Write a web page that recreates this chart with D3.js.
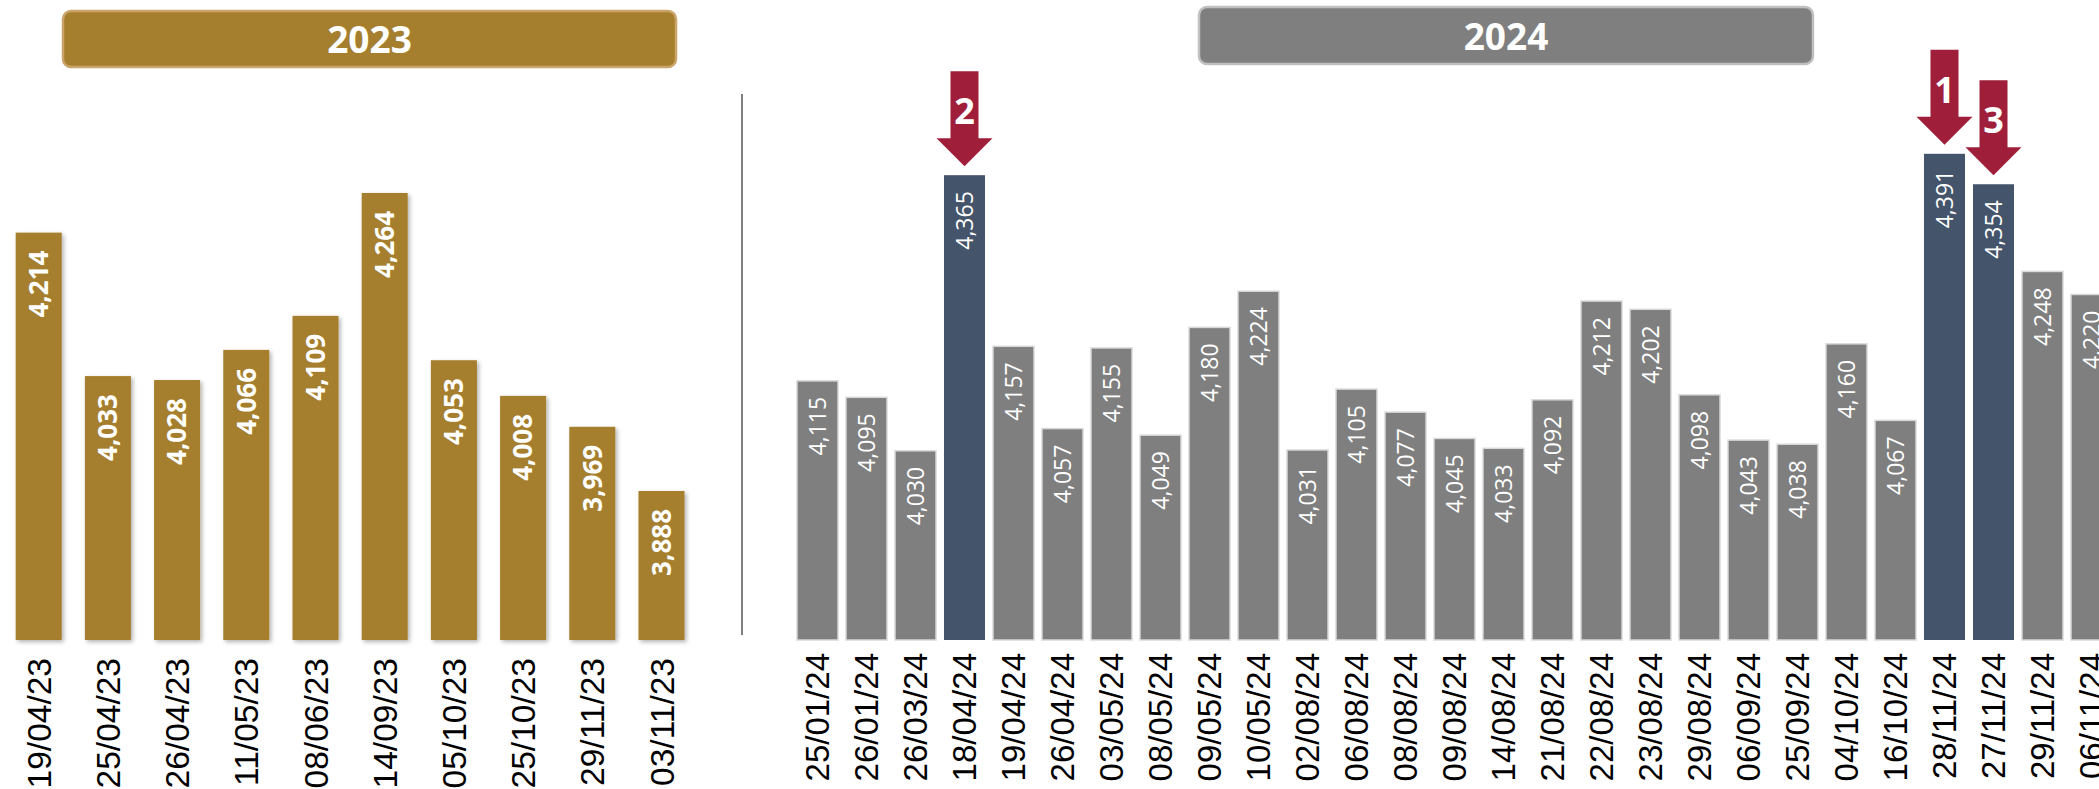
<!DOCTYPE html>
<html>
<head>
<meta charset="utf-8">
<script src="https://cdn.jsdelivr.net/npm/d3@7"></script>
<style>
  html, body { margin: 0; padding: 0; background: #ffffff; }
  svg { display: block; }
</style>
</head>
<body>
<svg id="chart" width="2099" height="789"></svg>
<script>
// ---------- DATA ----------
const cats2023 = ["19/04/23","25/04/23","26/04/23","11/05/23","08/06/23","14/09/23","05/10/23","25/10/23","29/11/23","03/11/23"];
const vals2023 = [4214,4033,4028,4066,4109,4264,4053,4008,3969,3888];

const cats2024 = ["25/01/24","26/01/24","26/03/24","18/04/24","19/04/24","26/04/24","03/05/24","08/05/24","09/05/24","10/05/24",
                  "02/08/24","06/08/24","08/08/24","09/08/24","14/08/24","21/08/24","22/08/24","23/08/24","29/08/24","06/09/24",
                  "25/09/24","04/10/24","16/10/24","28/11/24","27/11/24","29/11/24","06/11/24"];
const vals2024 = [4115,4095,4030,4365,4157,4057,4155,4049,4180,4224,
                  4031,4105,4077,4045,4033,4092,4212,4202,4098,4043,
                  4038,4160,4067,4391,4354,4248,4220];

const highlight2024 = ["18/04/24","28/11/24","27/11/24"];
const arrowDates = ["28/11/24","18/04/24","27/11/24"];
const arrowRanks = ["1","2","3"];
const panelTitles = ["2023","2024"];

// ---------- STYLE ----------
const gold = "#A67F2E", goldBorder = "#C9A46B";
const gray = "#7F7F7F", grayBorder = "#D9D9D9";
const navy = "#44546A", arrowRed = "#9F1F3B";
const fmt = d3.format(",");

const svg = d3.select("#chart");
const defs = svg.append("defs");
const f = defs.append("filter").attr("id","shadow").attr("x","-30%").attr("y","-10%").attr("width","160%").attr("height","120%");
f.append("feDropShadow").attr("dx",2).attr("dy",2).attr("stdDeviation",2)
  .attr("flood-color","#000").attr("flood-opacity",0.3);

// ---------- SCALES ----------
const x23 = d3.scaleBand().domain(cats2023).range([4.1, 696.1]).paddingInner(0.335).paddingOuter(0.1675);
const y23 = d3.scaleLinear().domain([3700, 4400]).range([640, 85.2]);
const x24 = d3.scaleBand().domain(cats2024).range([793, 2116]).paddingInner(0.163).paddingOuter(0.0815);
const y24 = d3.scaleLinear().domain([3800, 4400]).range([640, 146.4]);

// ---------- HEADERS ----------
function header(x0, x1, y0, y1, fill, stroke, title, baseline) {
  const g = svg.append("g");
  g.append("rect").attr("x", x0).attr("y", y0).attr("width", x1 - x0).attr("height", y1 - y0)
    .attr("rx", 8).attr("ry", 8).attr("fill", fill).attr("stroke", stroke).attr("stroke-width", 2.5);
  g.append("text").attr("x", (x0 + x1) / 2).attr("y", baseline).attr("text-anchor", "middle")
    .attr("font-family", "'Open Sans', 'Noto Sans', sans-serif").attr("font-weight", "bold")
    .attr("font-size", 37).attr("fill", "#fff").text(title);
}
header(63, 676, 11, 67, gold, goldBorder, panelTitles[0], 53);
header(1199, 1813, 7, 64, gray, "#BFBFBF", panelTitles[1], 50);

// separator
svg.append("line").attr("x1", 742).attr("x2", 742).attr("y1", 94).attr("y2", 635)
  .attr("stroke", "#808080").attr("stroke-width", 2);

// ---------- 2023 BARS ----------
const d23 = cats2023.map((c, i) => ({ c, v: vals2023[i] }));
svg.append("g").selectAll("rect").data(d23).join("rect")
  .attr("x", d => x23(d.c)).attr("width", x23.bandwidth())
  .attr("y", d => y23(d.v)).attr("height", d => y23.range()[0] - y23(d.v))
  .attr("fill", gold).attr("filter", "url(#shadow)");

svg.append("g").selectAll("text").data(d23).join("text")
  .attr("transform", d => `translate(${x23(d.c) + x23.bandwidth() / 2},${y23(d.v) + 18}) rotate(-90)`)
  .attr("text-anchor", "end").attr("dy", "0.36em")
  .attr("font-family", "'Open Sans', 'Noto Sans', sans-serif").attr("font-weight", "bold")
  .attr("font-size", 26).attr("fill", "#fff").text(d => fmt(d.v));

const ax23 = svg.append("g").attr("transform", `translate(0,${y23.range()[0]})`)
  .call(d3.axisBottom(x23).tickSize(0).tickPadding(0));
ax23.select(".domain").remove();
ax23.selectAll("text")
  .attr("transform", "rotate(-90)").attr("text-anchor", "end")
  .attr("x", -18).attr("y", 0).attr("dy", "0.36em")
  .attr("font-family", "'Liberation Sans', Arial, sans-serif").attr("font-size", 33.5).attr("fill", "#000");

// ---------- 2024 BARS ----------
const d24 = cats2024.map((c, i) => ({ c, v: vals2024[i], hi: highlight2024.includes(c) }));
svg.append("g").selectAll("rect").data(d24).join("rect")
  .attr("x", d => x24(d.c)).attr("width", x24.bandwidth())
  .attr("y", d => y24(d.v)).attr("height", d => y24.range()[0] - y24(d.v))
  .attr("fill", d => d.hi ? navy : gray)
  .attr("stroke", d => d.hi ? "none" : grayBorder).attr("stroke-width", 1.5);

svg.append("g").selectAll("text").data(d24).join("text")
  .attr("transform", d => `translate(${x24(d.c) + x24.bandwidth() / 2},${y24(d.v) + 16}) rotate(-90)`)
  .attr("text-anchor", "end").attr("dy", "0.36em")
  .attr("font-family", "'Open Sans', 'Noto Sans', sans-serif")
  .attr("font-size", 23).attr("fill", "#fff").text(d => fmt(d.v));

const ax24 = svg.append("g").attr("transform", `translate(0,${y24.range()[0]})`)
  .call(d3.axisBottom(x24).tickSize(0).tickPadding(0));
ax24.select(".domain").remove();
ax24.selectAll("text")
  .attr("transform", "rotate(-90)").attr("text-anchor", "end")
  .attr("x", -13).attr("y", 0).attr("dy", "0.36em")
  .attr("font-family", "'Liberation Sans', Arial, sans-serif").attr("font-size", 33).attr("fill", "#000");

// ---------- ARROWS ----------
const shaftW = 28, headW = 56, shaftH = 67, headH = 28, gap = 9;
const arrows = arrowDates.map((c, i) => ({ c, rank: arrowRanks[i], v: vals2024[cats2024.indexOf(c)] }));
const ag = svg.append("g").selectAll("g").data(arrows).join("g")
  .attr("transform", d => `translate(${x24(d.c) + x24.bandwidth() / 2},${y24(d.v) - gap})`);
ag.append("path")
  .attr("d", `M${-shaftW/2},${-(shaftH+headH)} L${shaftW/2},${-(shaftH+headH)} L${shaftW/2},${-headH} L${headW/2},${-headH} L0,0 L${-headW/2},${-headH} L${-shaftW/2},${-headH} Z`)
  .attr("fill", arrowRed);
ag.append("text").attr("x", 0).attr("y", -(shaftH + headH) + 53)
  .attr("text-anchor", "middle")
  .attr("font-family", "'Open Sans', 'Noto Sans', sans-serif").attr("font-weight", "bold")
  .attr("font-size", 36).attr("fill", "#fff").text(d => d.rank);
</script>
</body>
</html>
